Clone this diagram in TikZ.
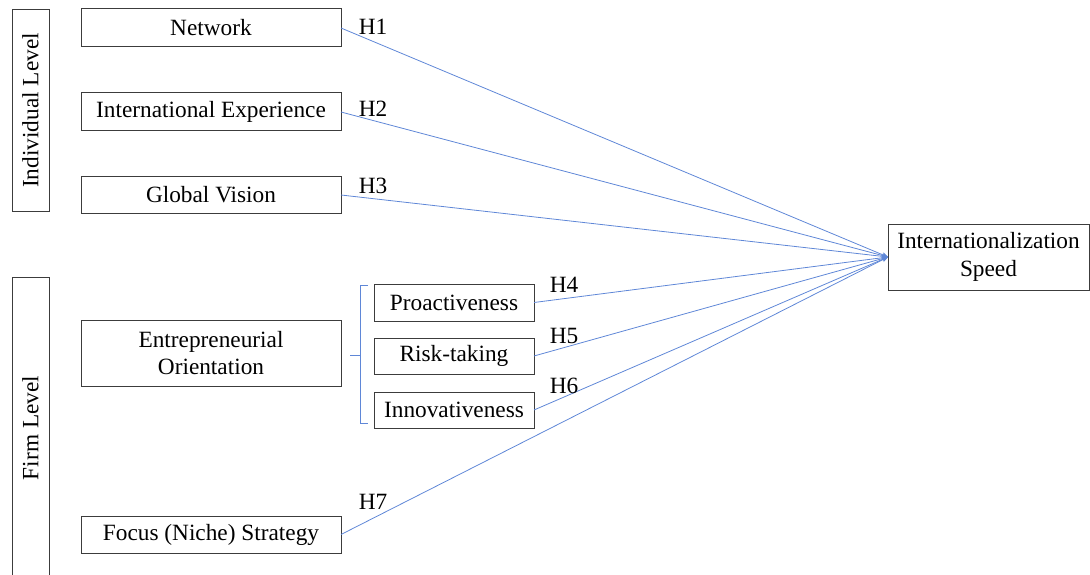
\documentclass[tikz,border=0pt]{standalone}
\usepackage{fontspec}
\setmainfont{Liberation Serif}
\usetikzlibrary{arrows.meta}
\definecolor{linkblue}{RGB}{95,135,215}
\definecolor{boxgray}{RGB}{60,60,60}
\begin{document}
\begin{tikzpicture}[x=1pt,y=-1pt,
  every node/.style={font=\fontsize{23.3}{27.8}\selectfont},
  box/.style={draw=boxgray,line width=1pt,inner sep=0pt,outer sep=0pt,align=center},
  link/.style={draw=linkblue,line width=0.8pt,-{Stealth[length=6pt,width=5pt]}},
  hlab/.style={inner sep=0pt}]
\useasboundingbox (0,0) rectangle (1090,575);
\clip (0,0) rectangle (1090,575);
% level boxes
\node[box,rotate=90,minimum width=201pt,minimum height=37pt] (IL) at (30.5,110.5) {Individual Level};
\node[box,rotate=90,minimum width=302pt,minimum height=37pt] (FL) at (30.5,428) {Firm Level};
% individual constructs
\node[box,minimum width=260pt,minimum height=38pt] (NW) at (211,28) {Network};
\node[box,minimum width=260pt,minimum height=38pt] (IE) at (211,112) {International Experience};
\node[box,minimum width=260pt,minimum height=36pt] (GV) at (211,195) {Global Vision};
% firm constructs
\node[box,minimum width=260pt,minimum height=66pt] (EO) at (211,353) {Entrepreneurial\\Orientation};
\node[box,minimum width=260pt,minimum height=37pt] (FS) at (211,534.5) {Focus (Niche) Strategy};
\node[box,minimum width=160pt,minimum height=37pt] (PR) at (454,302.5) {Proactiveness};
\node[box,minimum width=160pt,minimum height=36pt] (RT) at (454,356) {Risk-taking};
\node[box,minimum width=160pt,minimum height=36pt] (IN) at (454,410) {Innovativeness};
% target
\node[box,minimum width=201pt,minimum height=66pt] (IS) at (988.5,257) {Internationalization\\Speed};
% bracket
\coordinate (BT) at (368,285);
\coordinate (BB) at (368,423);
\coordinate (BM) at (350,355);
\draw[linkblue,line width=0.8pt] (BT) -- (360,285) -- (360,423) -- (BB);
\draw[linkblue,line width=0.8pt] (BM) -- (360,355);
% connectors
\draw[link] (NW.east) -- (IS.west);
\draw[link] (IE.east) -- (IS.west);
\draw[link] (GV.east) -- (IS.west);
\draw[link] (PR.east) -- (IS.west);
\draw[link] (RT.east) -- (IS.west);
\draw[link] (IN.east) -- (IS.west);
\draw[link] (FS.east) -- (IS.west);
% labels
\node[hlab] (H1) at (373,27) {H1};
\node[hlab] (H2) at (373,109) {H2};
\node[hlab] (H3) at (373,186) {H3};
\node[hlab] (H4) at (564,285) {H4};
\node[hlab] (H5) at (564,336) {H5};
\node[hlab] (H6) at (564,386) {H6};
\node[hlab] (H7) at (373,502) {H7};
\end{tikzpicture}
\end{document}
